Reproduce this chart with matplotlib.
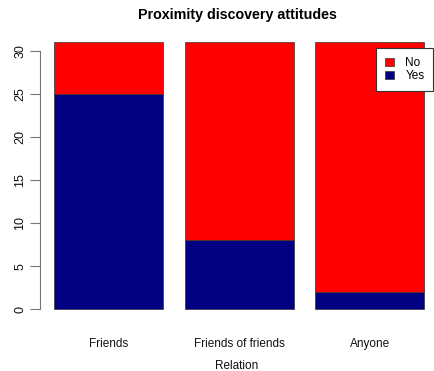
import matplotlib
matplotlib.use("Agg")
import matplotlib.pyplot as plt
import numpy as np
from matplotlib.patches import Patch

categories = ["Friends", "Friends of friends", "Anyone"]
yes_counts = [25, 8, 2]
no_counts = [6, 23, 29]
yticks = [0, 5, 10, 15, 20, 25, 30]

W, H = 434, 371
fig = plt.figure(figsize=(W / 100, H / 100), dpi=100)
plt.rcParams["font.family"] = ["Liberation Sans", "DejaVu Sans"]

# plot region in pixel coordinates
left, right, top, bottom = 40, 434, 31.3, 320.0
ax = fig.add_axes([left / W, 1 - bottom / H, (right - left) / W, (bottom - top) / H])

# barplot layout: width 1, space 0.2
x_left = 0.2 + 1.2 * np.arange(len(categories))
centers = x_left + 0.5
yes = np.array(yes_counts)
no = np.array(no_counts)
ax.bar(centers, yes, width=1.0, color="#000080", edgecolor="#333333", linewidth=0.5)
ax.bar(centers, no, width=1.0, bottom=yes, color="#FF0000", edgecolor="#333333", linewidth=0.5)

total = (yes + no).max()
ax.set_xlim(0.0686, 3.690)
ax.set_ylim(-0.04 * total, total * 1.04)

for s in ["top", "right", "bottom"]:
    ax.spines[s].set_visible(False)
ax.spines["left"].set_bounds(yticks[0], yticks[-1])
ax.spines["left"].set_color("#777777")
ax.spines["left"].set_linewidth(0.8)

ax.set_yticks(yticks)
ax.set_yticklabels([str(t) for t in yticks], rotation=90, va="center", fontsize=9)
ax.tick_params(axis="y", length=7, width=0.8, color="#777777", pad=3, labelcolor="#111111")

ax.set_xticks(centers)
ax.set_xticklabels(categories, fontsize=8.5)
ax.tick_params(axis="x", length=0, pad=13, labelcolor="#111111")
ax.set_xlabel("Relation", fontsize=8.5, labelpad=7, color="#111111")

fig.text(((left + right) / 2) / W, 1 - 15 / H, "Proximity discovery attitudes",
         ha="center", va="center", fontsize=10.3, fontweight="bold")

handles = [Patch(facecolor="#FF0000", edgecolor="#333333", linewidth=0.5, label="No"),
           Patch(facecolor="#000080", edgecolor="#333333", linewidth=0.5, label="Yes")]
leg = fig.legend(handles=handles, loc="upper right",
                 bbox_to_anchor=(433.3 / W, 1 - 48 / H), borderaxespad=0,
                 fancybox=False, framealpha=1, edgecolor="#333333",
                 fontsize=8.5, handlelength=0.78, handleheight=0.65,
                 handletextpad=0.95, labelspacing=0.12, borderpad=0.75)
leg.get_frame().set_linewidth(0.8)

fig.savefig("out.png", dpi=100)
